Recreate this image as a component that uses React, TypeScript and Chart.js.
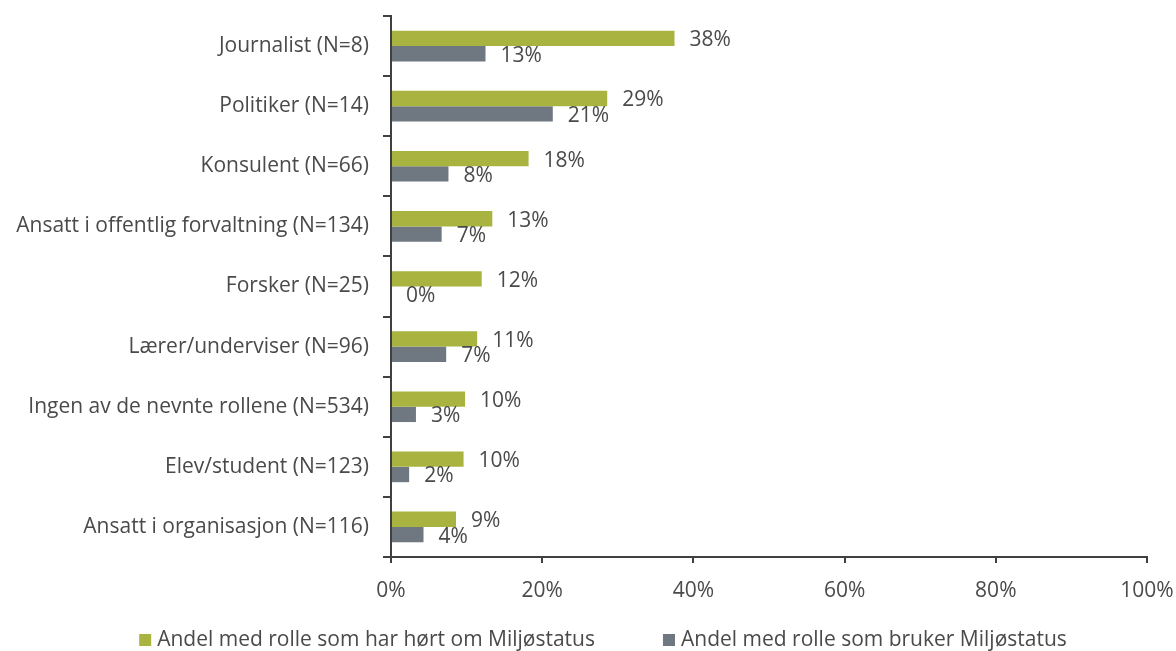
import React, { useEffect, useRef } from "react";
import { Chart, registerables } from "chart.js";

Chart.register(...registerables);

const categories = [
  "Journalist (N=8)",
  "Politiker (N=14)",
  "Konsulent (N=66)",
  "Ansatt i offentlig forvaltning (N=134)",
  "Forsker (N=25)",
  "Lærer/underviser (N=96)",
  "Ingen av de nevnte rollene (N=534)",
  "Elev/student (N=123)",
  "Ansatt i organisasjon (N=116)",
];

const heardValues = [37.5, 28.6, 18.2, 13.4, 12.0, 11.4, 9.8, 9.6, 8.6];
const usesValues = [12.5, 21.4, 7.6, 6.7, 0, 7.3, 3.3, 2.4, 4.3];

const seriesNames = [
  "Andel med rolle som har hørt om Miljøstatus",
  "Andel med rolle som bruker Miljøstatus",
];

const xTicks = [0, 20, 40, 60, 80, 100];

const FONT = "'Open Sans', Lato, sans-serif";
const FONT_SIZE = 21;
const TEXT = "#4a4a4a";
const AXIS = "#404040";
const GREEN = "#A8B43F";
const GRAY = "#6F7880";

const dataLabelPlugin = {
  id: "dataLabels",
  afterDatasetsDraw(chart: any) {
    const ctx = chart.ctx;
    ctx.save();
    ctx.font = `${FONT_SIZE}px ${FONT}`;
    ctx.fillStyle = TEXT;
    ctx.textAlign = "left";
    ctx.textBaseline = "middle";
    chart.data.datasets.forEach((ds: any, di: number) => {
      const meta = chart.getDatasetMeta(di);
      meta.data.forEach((bar: any, i: number) => {
        const v = ds.data[i];
        ctx.fillText(Math.round(v) + "%", bar.x + 15, bar.y + 2);
      });
    });
    ctx.restore();
  },
};

const legendPlugin = {
  id: "customLegend",
  afterDraw(chart: any) {
    const ctx = chart.ctx;
    ctx.save();
    ctx.font = `${FONT_SIZE}px ${FONT}`;
    ctx.textBaseline = "middle";
    ctx.textAlign = "left";
    const box = 12;
    const gapBoxText = 6;
    const gapItems = 68;
    const items = chart.data.datasets.map((ds: any) => ({
      label: ds.label,
      color: ds.backgroundColor,
      w: box + gapBoxText + ctx.measureText(ds.label).width,
    }));
    const total =
      items.reduce((s: number, it: any) => s + it.w, 0) + gapItems * (items.length - 1);
    const cx = 603;
    let x = cx - total / 2;
    const y = 640;
    items.forEach((it: any) => {
      ctx.fillStyle = it.color;
      ctx.fillRect(x, y - box / 2, box, box);
      ctx.fillStyle = TEXT;
      ctx.fillText(it.label, x + box + gapBoxText, y);
      x += it.w + gapItems;
    });
    ctx.restore();
  },
};

export default function App() {
  const ref = useRef<HTMLCanvasElement>(null);

  useEffect(() => {
    if (!ref.current) return;
    const chart = new Chart(ref.current, {
      type: "bar",
      data: {
        labels: categories,
        datasets: [
          {
            label: seriesNames[0],
            data: heardValues,
            backgroundColor: GREEN,
            categoryPercentage: 0.51,
            barPercentage: 1.0,
          },
          {
            label: seriesNames[1],
            data: usesValues,
            backgroundColor: GRAY,
            categoryPercentage: 0.51,
            barPercentage: 1.0,
          },
        ],
      },
      options: {
        indexAxis: "y",
        animation: false,
        responsive: false,
        layout: { padding: { left: 0, right: 29, top: 16, bottom: 0 } },
        plugins: {
          legend: { display: false },
          tooltip: { enabled: false },
        },
        scales: {
          x: {
            min: 0,
            max: 100,
            afterBuildTicks: (scale: any) => {
              scale.ticks = xTicks.map((v) => ({ value: v }));
            },
            afterFit: (scale: any) => {
              scale.height = 94;
              scale.paddingLeft = 0;
              scale.paddingRight = 0;
            },
            ticks: {
              callback: (v: any) => v + "%",
              font: { family: FONT, size: FONT_SIZE },
              color: TEXT,
              padding: 15,
              maxRotation: 0,
            },
            grid: {
              drawOnChartArea: false,
              drawTicks: true,
              tickLength: 6,
              color: AXIS,
              lineWidth: 2,
            },
            border: { display: true, color: AXIS, width: 2 },
          },
          y: {
            afterFit: (scale: any) => {
              scale.width = 391;
              scale.paddingTop = 0;
              scale.paddingBottom = 0;
            },
            ticks: {
              font: { family: FONT, size: FONT_SIZE },
              color: TEXT,
              padding: 14,
            },
            grid: {
              drawOnChartArea: false,
              drawTicks: true,
              tickLength: 8,
              color: AXIS,
              lineWidth: 2,
              offset: true,
            },
            border: { display: true, color: AXIS, width: 2 },
          },
        },
      },
      plugins: [dataLabelPlugin, legendPlugin],
    } as any);
    return () => chart.destroy();
  }, []);

  return (
    <div style={{ position: "absolute", left: 0, top: 0, width: 1176, height: 651, background: "#fff" }}>
      <canvas ref={ref} width={1176} height={651} style={{ display: "block" }} />
    </div>
  );
}
